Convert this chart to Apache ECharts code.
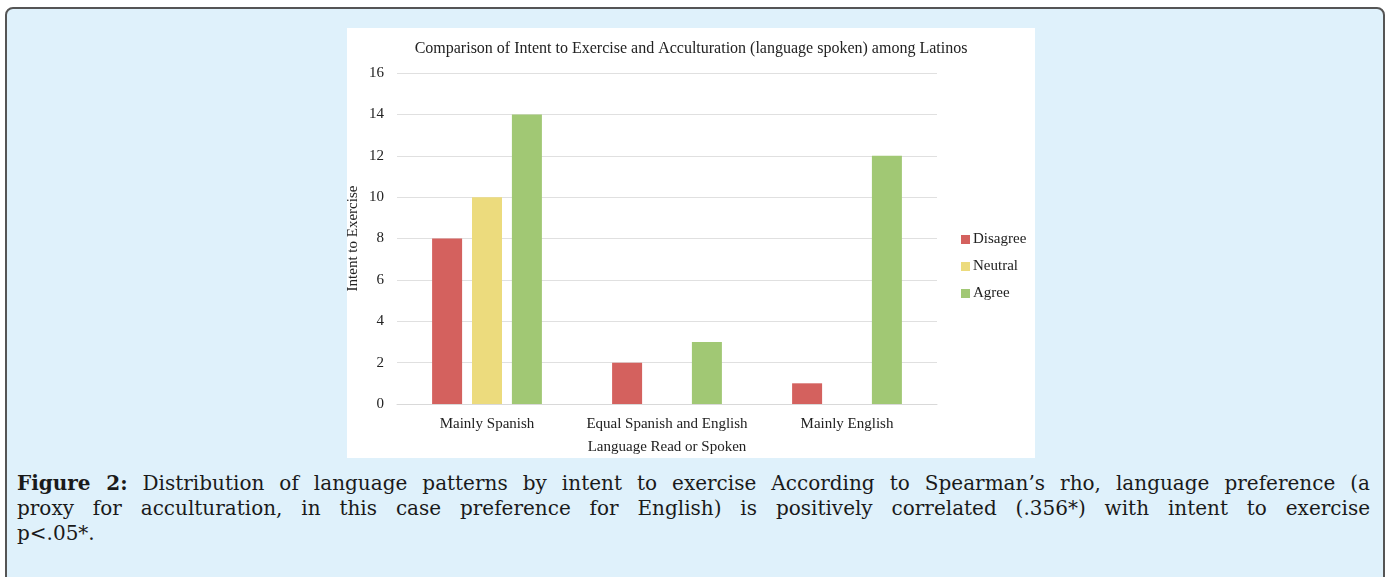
<!DOCTYPE html>
<html>
<head>
    <meta charset="utf-8">
    <title>Figure 2</title>
    <script src="https://cdn.jsdelivr.net/npm/echarts@6/dist/echarts.min.js"></script>
    <style>
        html, body {
            margin: 0;
            padding: 0;
            width: 1390px;
            height: 577px;
            overflow: hidden;
            background-color: #fff;
        }

        .frame {
            position: absolute;
            left: 5px;
            top: 7px;
            width: 1376px;
            height: 590px;
            border: 2px solid #555;
            border-radius: 8px;
            background-color: #dff1fb;
        }

        #chart {
            position: absolute;
            left: 347px;
            top: 28px;
            width: 688px;
            height: 430px;
            background-color: #fff;
        }

        .caption {
            position: absolute;
            left: 17px;
            top: 471px;
            width: 1353px;
            font-family: "DejaVu Serif", serif;
            font-size: 20px;
            line-height: 25px;
            color: #1a1a1a;
        }

        .caption div {
            white-space: nowrap;
            text-align: justify;
            text-align-last: justify;
        }

        .caption div.last {
            text-align-last: left;
        }
    </style>
</head>

<body>
<div class="frame"></div>
<div id="chart"></div>
<div class="caption">
    <div><b>Figure 2:</b> Distribution of language patterns by intent to exercise According to Spearman’s rho, language preference (a</div>
    <div>proxy for acculturation, in this case preference for English) is positively correlated (.356*) with intent to exercise</div>
    <div class="last">p&lt;.05*.</div>
</div>

<script type="text/javascript">

    // 数据
    var categories = ['Mainly Spanish', 'Equal Spanish and English', 'Mainly English'];
    var disagree = [8, 2, 1];
    var neutral = [10, 0, 0];
    var agree = [14, 3, 12];
    var yTicks = [0, 2, 4, 6, 8, 10, 12, 14, 16];

    var font = '"Liberation Serif", "DejaVu Serif", serif';

    var myChart = echarts.init(document.getElementById('chart'));

    myChart.setOption({
        animation: false,
        title: {
            text: 'Comparison of Intent to Exercise and Acculturation (language spoken) among Latinos',
            left: 'center',
            top: 8,
            textStyle: {
                fontFamily: font,
                fontSize: 16,
                fontWeight: 'normal',
                color: '#222'
            }
        },
        legend: {
            orient: 'vertical',
            left: 609,
            top: 199,
            itemWidth: 9,
            itemHeight: 9,
            itemGap: 12,
            icon: 'rect',
            textStyle: {
                fontFamily: font,
                fontSize: 15,
                color: '#222',
                padding: [0, 0, 0, -2]
            },
            data: ['Disagree', 'Neutral', 'Agree']
        },
        grid: {
            left: 50,
            right: 98,
            top: 45,
            bottom: 54,
            outerBoundsMode: 'none'
        },
        xAxis: {
            type: 'category',
            data: categories,
            name: 'Language Read or Spoken',
            nameLocation: 'middle',
            nameGap: 36,
            nameMoveOverlap: false,
            nameTextStyle: {
                fontFamily: font,
                fontSize: 15,
                color: '#222'
            },
            axisLine: {
                lineStyle: {color: '#d9d9d9'}
            },
            axisTick: {show: false},
            axisLabel: {
                interval: 0,
                margin: 13,
                fontFamily: font,
                fontSize: 15,
                color: '#222'
            }
        },
        yAxis: {
            type: 'value',
            min: yTicks[0],
            max: yTicks[yTicks.length - 1],
            interval: 2,
            name: 'Intent to Exercise',
            nameLocation: 'middle',
            nameGap: 36,
            nameMoveOverlap: false,
            nameTextStyle: {
                fontFamily: font,
                fontSize: 15,
                color: '#222'
            },
            axisLine: {show: false},
            axisTick: {show: false},
            axisLabel: {
                margin: 13,
                fontFamily: font,
                fontSize: 15,
                color: '#222'
            },
            splitLine: {
                lineStyle: {color: '#e0e0e0'}
            }
        },
        series: [
            {
                name: 'Disagree',
                type: 'bar',
                barWidth: 30,
                barGap: '33%',
                itemStyle: {color: '#d4615e'},
                data: disagree
            },
            {
                name: 'Neutral',
                type: 'bar',
                barWidth: 30,
                barGap: '33%',
                itemStyle: {color: '#ecdb7d'},
                data: neutral
            },
            {
                name: 'Agree',
                type: 'bar',
                barWidth: 30,
                barGap: '33%',
                itemStyle: {color: '#a1c874'},
                data: agree
            }
        ]
    });

</script>
</body>
</html>
